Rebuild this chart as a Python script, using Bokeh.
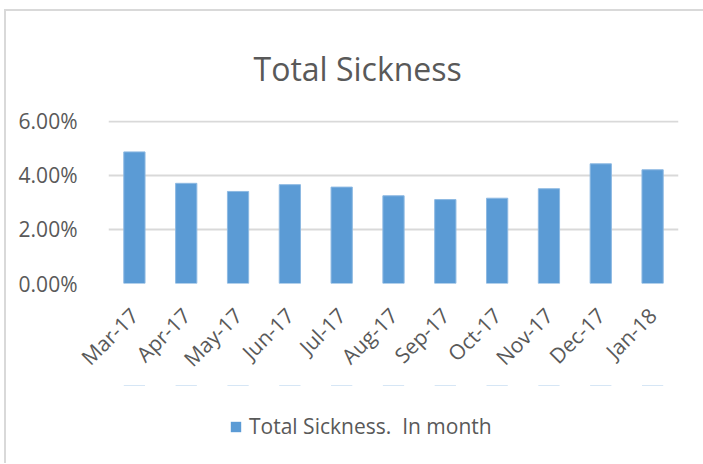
import math
from bokeh.plotting import figure
from bokeh.layouts import column
from bokeh.models import (ColumnDataSource, FactorRange, Range1d, FixedTicker,
                          NumeralTickFormatter, Legend, LegendItem, Title)
from bokeh.embed import file_html
from bokeh.resources import INLINE

months = ["Mar-17", "Apr-17", "May-17", "Jun-17", "Jul-17", "Aug-17",
          "Sep-17", "Oct-17", "Nov-17", "Dec-17", "Jan-18"]
sickness = [0.0486, 0.0370, 0.0340, 0.0365, 0.0356, 0.0324,
            0.0310, 0.0315, 0.0350, 0.0442, 0.0420]
y_ticks = [0.0, 0.02, 0.04, 0.06]
title_text = "Total Sickness"
legend_text = "Total Sickness.  In month"

FONT = "Open Sans"
TXT = "#595959"
GRID = "#D9D9D9"
BAR = "#5B9BD5"

src = ColumnDataSource(dict(m=months, v=sickness))

W = 697
p = figure(width=W, height=374, output_backend="svg", toolbar_location=None,
           x_range=FactorRange(*months), y_range=Range1d(0, 0.0602),
           title=None, min_border_left=102, min_border_right=W - 672,
           min_border_top=109, min_border_bottom=99)

t = Title(text=title_text, align="left", text_font=FONT, text_font_size="32px",
          text_color=TXT, text_font_style="normal", standoff=62, offset=145)
p.add_layout(t, "above")

r = p.vbar(x="m", top="v", width=0.41, source=src, fill_color=BAR,
           line_color="#8DB9E2", line_width=1)

p.background_fill_color = "white"
p.border_fill_color = "white"
p.outline_line_color = None

p.yaxis.ticker = FixedTicker(ticks=y_ticks)
p.yaxis.formatter = NumeralTickFormatter(format="0.00%")
p.yaxis.axis_line_color = None
p.yaxis.major_tick_line_color = None
p.yaxis.minor_tick_line_color = None
p.yaxis.major_label_text_font = FONT
p.yaxis.major_label_text_font_size = "21px"
p.yaxis.major_label_text_color = TXT
p.yaxis.major_label_standoff = 25

p.xaxis.axis_line_color = None
p.xaxis.major_tick_line_color = None
p.xaxis.minor_tick_line_color = None
p.xaxis.major_label_text_font = FONT
p.xaxis.major_label_text_font_size = "21px"
p.xaxis.major_label_text_color = TXT
p.xaxis.major_label_orientation = math.pi / 4
p.xaxis.major_label_standoff = 22

p.xgrid.grid_line_color = None
p.ygrid.grid_line_color = GRID
p.ygrid.grid_line_width = 2
p.ygrid.ticker = FixedTicker(ticks=y_ticks)

# legend strip below the chart (its zero-height bars lie outside the visible range)
pl = figure(width=W, height=78, output_backend="svg", toolbar_location=None,
            x_axis_type=None, y_axis_type=None, x_range=FactorRange(*months),
            y_range=Range1d(-1, -0.5), min_border=0)
pl.outline_line_color = None
pl.background_fill_color = "white"
pl.border_fill_color = "white"
pl.xgrid.visible = False
pl.ygrid.visible = False
rl = pl.vbar(x="m", top="v", bottom="v", width=0.41, source=src, fill_color=BAR,
             line_color=None)
legend = Legend(items=[LegendItem(label=legend_text, renderers=[rl])],
                location=(121, 23), orientation="horizontal",
                label_text_font=FONT, label_text_font_size="21px",
                label_text_color=TXT, glyph_width=13, glyph_height=13,
                label_standoff=7, border_line_color=None,
                background_fill_alpha=0, margin=0, padding=5)
pl.add_layout(legend, "center")

layout = column(p, pl, spacing=0)
layout.styles = {"border-top": "2px solid #D9D9D9", "border-left": "2px solid #D9D9D9",
                 "margin-left": "4px", "margin-top": "9px"}

open("out.html", "w").write(file_html(layout, INLINE))
